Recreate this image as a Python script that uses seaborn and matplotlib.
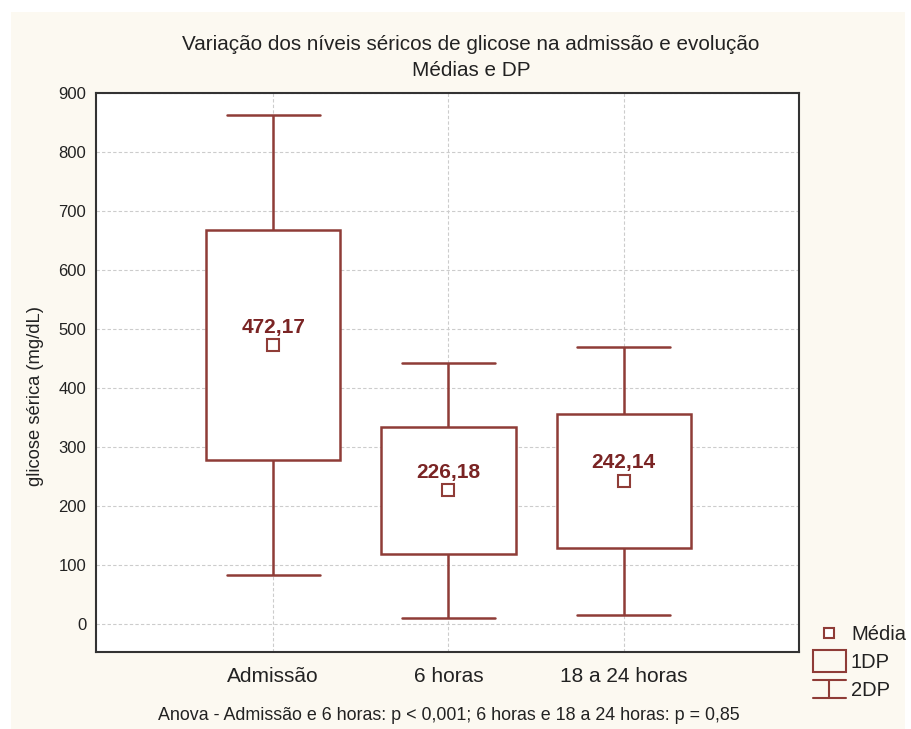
import numpy as np
import pandas as pd
import matplotlib
matplotlib.use("Agg")
import matplotlib.pyplot as plt
from matplotlib.patches import Rectangle
from matplotlib.lines import Line2D
import seaborn as sns

# ---- data ----
categories = ["Admissão", "6 horas", "18 a 24 horas"]
means = [472.17, 226.18, 242.14]
box_low = [278, 118, 129]      # média - 1DP
box_high = [667, 334, 355]     # média + 1DP
whisker_low = [83, 10, 15]     # média - 2DP
whisker_high = [862, 442, 469] # média + 2DP
yticks = [0, 100, 200, 300, 400, 500, 600, 700, 800, 900]

title_lines = ["Variação dos níveis séricos de glicose na admissão e evolução", "Médias e DP"]
ylabel = "glicose sérica (mg/dL)"
footnote = "Anova - Admissão e 6 horas: p < 0,001; 6 horas e 18 a 24 horas: p = 0,85"
legend_labels = ["Média", "1DP", "2DP"]

RED = "#8f3c37"
TXT_RED = "#7a2424"
CREAM = "#fcf9f1"
INK = "#222222"

sns.set_theme(style="white")
plt.rcParams["font.family"] = ["Liberation Sans", "DejaVu Sans"]

# long-form table: five values per group so that quartiles = mean ± 1DP and extremes = mean ± 2DP
rows = []
for c, wl, bl, m, bh, wh in zip(categories, whisker_low, box_low, means, box_high, whisker_high):
    for v in (wl, bl, m, bh, wh):
        rows.append({"grupo": c, "glicose": v})
df = pd.DataFrame(rows)

fig = plt.figure(figsize=(9.12, 7.29), dpi=100, facecolor="white")
fig.patches.append(Rectangle((11 / 912, 0), (905 - 11) / 912, 1 - 12 / 729,
                             transform=fig.transFigure, facecolor=CREAM,
                             edgecolor="none", zorder=-10))
ax = fig.add_axes([96 / 912, 1 - 652 / 729, (799 - 96) / 912, (652 - 93) / 729])
ax.set_facecolor("white")

sns.boxplot(data=df, x="grupo", y="glicose", order=categories, ax=ax,
            whis=(0, 100), width=0.766, color="white", linecolor=RED,
            linewidth=1.8, showfliers=False, capwidths=0.53,
            medianprops=dict(visible=False),
            boxprops=dict(facecolor="white", edgecolor=RED, linewidth=1.8),
            whiskerprops=dict(color=RED, linewidth=1.8),
            capprops=dict(color=RED, linewidth=1.8))

sns.pointplot(x=categories, y=means, order=categories, ax=ax, errorbar=None,
              linestyle="none", marker="s", markersize=8, markerfacecolor="white",
              markeredgecolor=RED, markeredgewidth=1.5, color=RED)

for i, m in enumerate(means):
    ax.annotate(f"{m:.2f}".replace(".", ","), (i, m), xytext=(0, 13),
                textcoords="offset points", ha="center", va="center",
                fontsize=15, fontweight="bold", color=TXT_RED)

ax.set_xlim(-1.01, 3.0)
ax.set_ylim(-48, 900)
ax.set_yticks(yticks)
ax.set_yticklabels([str(t) for t in yticks], fontsize=12, color=INK)
ax.set_xticks(range(len(categories)))
ax.set_xticklabels(categories, fontsize=15, color=INK)
ax.grid(True, color="#cccccc", linestyle=(0, (3, 2)), linewidth=0.8)
ax.set_axisbelow(True)
for s in ax.spines.values():
    s.set_color("#333333")
    s.set_linewidth(1.5)
    s.set_visible(True)
ax.tick_params(axis="y", direction="out", length=4, width=1, color="#333333", pad=3)
ax.tick_params(axis="x", direction="in", length=4, width=1, color="#333333", pad=11)
ax.set_xlabel("")
ax.set_ylabel(ylabel, fontsize=13.2, color=INK)
ax.yaxis.set_label_coords(-(96 - 44) / (799 - 96), (652 - 396) / (652 - 93))

fig.text(471 / 912, 1 - 45 / 729, title_lines[0],
         ha="center", va="center", fontsize=14.9, color=INK)
fig.text(471 / 912, 1 - 70 / 729, title_lines[1],
         ha="center", va="center", fontsize=14.9, color=INK)
fig.text(449 / 912, 1 - 715 / 729, footnote, ha="center", va="center",
         fontsize=12.9, color=INK)

# legend (drawn in figure pixels)
def px(x, y):
    return x / 912, 1 - y / 729
T = fig.transFigure
fig.add_artist(Line2D(*zip(px(829, 633)), marker="s", markersize=7, markerfacecolor="white",
                      markeredgecolor=RED, markeredgewidth=1.5, transform=T))
x0, y0 = px(813, 672)
x1, y1 = px(846, 650)
fig.patches.append(Rectangle((x0, y0), x1 - x0, y1 - y0, transform=T,
                             facecolor="none", edgecolor=RED, linewidth=1.5))
for (xa, ya), (xb, yb) in [((813, 680), (846, 680)), ((813, 698), (846, 698)), ((829, 680), (829, 698))]:
    a, b = px(xa, ya), px(xb, yb)
    fig.add_artist(Line2D([a[0], b[0]], [a[1], b[1]], color=RED, linewidth=1.5, transform=T))
for lab, y in zip(legend_labels, [634, 662, 690]):
    fig.text(851 / 912, 1 - y / 729, lab, ha="left", va="center", fontsize=14.5,
             color=INK)

fig.savefig("out.png", dpi=100, facecolor="white")
